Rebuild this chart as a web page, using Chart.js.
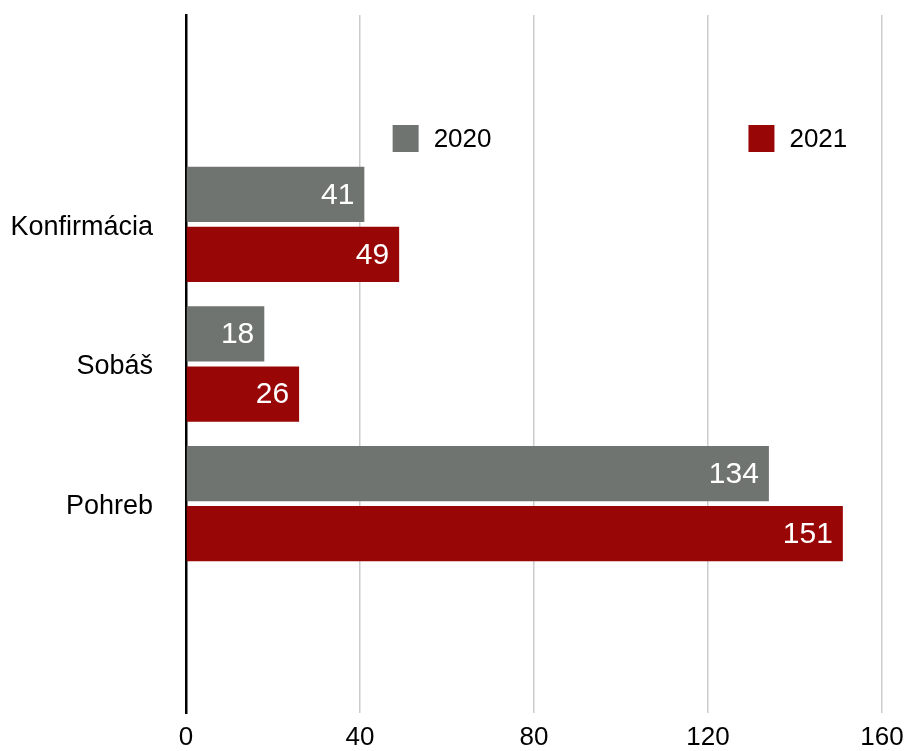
<!DOCTYPE html>
<html>
<head>
<meta charset="utf-8">
<script src="https://cdn.jsdelivr.net/npm/chart.js@4/dist/chart.umd.min.js"></script>
<style>
  body { margin: 0; background: #fff; }
  #wrap { width: 904px; height: 751px; position: relative; }
</style>
</head>
<body>
<div id="wrap"><canvas id="barChart"></canvas></div>
<script>
// empty categories at both ends leave room like in the original
const categories = ["", "Konfirmácia", "Sobáš", "Pohreb", ""];
const series2020 = [null, 41, 18, 134, null];
const series2021 = [null, 49, 26, 151, null];
const xTicks = [0, 40, 80, 120, 160];

const grey = "#6f7471";
const red = "#990606";
const font = "'Liberation Sans', Arial, sans-serif";

// white numbers at the end of each bar
const barLabels = {
    id: "barLabels",
    afterDatasetsDraw(chart) {
        const ctx = chart.ctx;
        ctx.save();
        ctx.font = "30px " + font;
        ctx.fillStyle = "#fff";
        ctx.textAlign = "right";
        ctx.textBaseline = "middle";
        chart.data.datasets.forEach((ds, i) => {
            chart.getDatasetMeta(i).data.forEach((bar, j) => {
                if (ds.data[j] == null) return;
                ctx.fillText(ds.data[j], bar.x - 10, bar.y + 1);
            });
        });
        ctx.restore();
    }
};

// legend sits inside the plot, above the first group
const innerLegend = {
    id: "innerLegend",
    afterDatasetsDraw(chart) {
        const ctx = chart.ctx;
        const x = chart.scales.x;
        const y = 139;
        const spots = [x.getPixelForValue(47.5), x.getPixelForValue(129.3)];
        ctx.save();
        ctx.font = "26px " + font;
        ctx.textBaseline = "middle";
        ctx.textAlign = "left";
        chart.data.datasets.forEach((ds, i) => {
            ctx.fillStyle = ds.backgroundColor;
            ctx.fillRect(spots[i], y - 14, 26, 27);
            ctx.fillStyle = "#000";
            ctx.fillText(ds.label, spots[i] + 41, y + 1);
        });
        ctx.restore();
    }
};

new Chart(document.getElementById("barChart"), {
    type: "bar",
    data: {
        labels: categories,
        datasets: [
            { label: "2020", data: series2020, backgroundColor: grey },
            { label: "2021", data: series2021, backgroundColor: red }
        ]
    },
    options: {
        indexAxis: "y",
        responsive: true,
        maintainAspectRatio: false,
        animation: false,
        categoryPercentage: 0.86,
        barPercentage: 0.92,
        layout: { padding: { top: 15, left: 12, right: 22, bottom: 0 } },
        plugins: {
            legend: { display: false },
            tooltip: { enabled: false }
        },
        scales: {
            x: {
                min: 0,
                max: 160,
                afterBuildTicks: (s) => { s.ticks = xTicks.map(v => ({ value: v })); },
                afterFit: (s) => { s.height = 38; s.paddingLeft = 0; s.paddingRight = 0; },
                grid: { color: "#cccccc", lineWidth: 1.5, drawTicks: false },
                border: { display: false },
                ticks: { color: "#000", padding: 12, font: { family: font, size: 26, lineHeight: 1 } }
            },
            y: {
                afterFit: (s) => { s.width = 174; s.paddingTop = 0; s.paddingBottom = 0; },
                grid: { display: false, drawTicks: false },
                border: { display: true, color: "#000", width: 2.5 },
                ticks: { color: "#000", padding: 33, labelOffset: 3, font: { family: font, size: 27 } }
            }
        }
    },
    plugins: [barLabels, innerLegend]
});
</script>
</body>
</html>
